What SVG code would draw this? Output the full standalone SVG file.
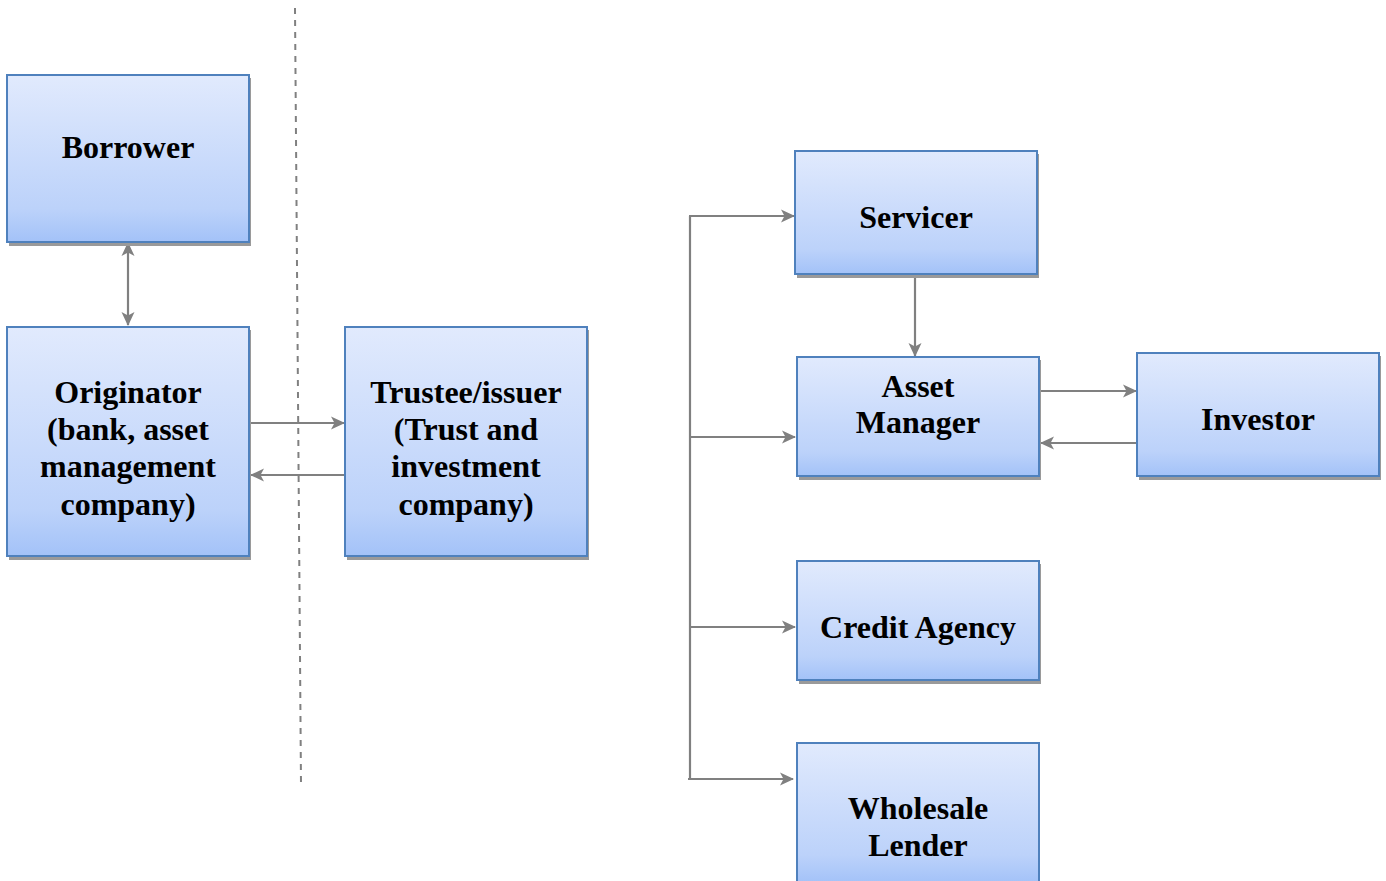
<svg xmlns="http://www.w3.org/2000/svg" width="1386" height="881" viewBox="0 0 1386 881">
<style>
.box{fill:url(#g);stroke:#4f81bd;stroke-width:2}
.sh{fill:#9a9a9a}
.t{font-family:"Liberation Serif","Times New Roman",serif;font-weight:bold;font-size:32px;fill:#000;text-anchor:middle}
.c{fill:none;stroke:#808080;stroke-width:2.2}
</style>
<defs>
<linearGradient id="g" x1="0" y1="0" x2="0" y2="1">
<stop offset="0" stop-color="#e1eafd"/>
<stop offset="0.8" stop-color="#bcd2fa"/>
<stop offset="1" stop-color="#a3c2f8"/>
</linearGradient>
<marker id="a" viewBox="0 0 14 14" refX="13" refY="7" markerWidth="14" markerHeight="14" markerUnits="userSpaceOnUse" orient="auto-start-reverse">
<path d="M0,0.5 L14,7 L0,13.5 L3.5,7 Z" fill="#808080"/>
</marker>
</defs>
<rect width="1386" height="881" fill="#fff"/>
<line x1="295" y1="8" x2="301" y2="785" stroke="#808080" stroke-width="2" stroke-dasharray="6,6"/>
<g id="connectors">
<line class="c" x1="128" y1="243" x2="128" y2="325" marker-start="url(#a)" marker-end="url(#a)"/>
<line class="c" x1="250" y1="423" x2="344" y2="423" marker-end="url(#a)"/>
<line class="c" x1="345" y1="475" x2="251" y2="475" marker-end="url(#a)"/>
<line class="c" x1="690" y1="216" x2="690" y2="779"/>
<line class="c" x1="689" y1="216" x2="794" y2="216" marker-end="url(#a)"/>
<line class="c" x1="690" y1="437" x2="795" y2="437" marker-end="url(#a)"/>
<line class="c" x1="690" y1="627" x2="795" y2="627" marker-end="url(#a)"/>
<line class="c" x1="688" y1="779" x2="793" y2="779" marker-end="url(#a)"/>
<line class="c" x1="915" y1="275" x2="915" y2="356" marker-end="url(#a)"/>
<line class="c" x1="1040" y1="391" x2="1136" y2="391" marker-end="url(#a)"/>
<line class="c" x1="1137" y1="443" x2="1041" y2="443" marker-end="url(#a)"/>
</g>
<g id="borrower">
<rect class="sh" x="9" y="78" width="242" height="168"/>
<rect class="box" x="7" y="75" width="242" height="167"/>
<text class="t" x="128" y="158">Borrower</text>
</g>
<g id="originator">
<rect class="sh" x="9" y="330" width="242" height="230"/>
<rect class="box" x="7" y="327" width="242" height="229"/>
<text class="t" x="128" y="403">Originator</text>
<text class="t" x="128" y="440">(bank, asset</text>
<text class="t" x="128" y="477">management</text>
<text class="t" x="128" y="515">company)</text>
</g>
<g id="trustee">
<rect class="sh" x="347" y="330" width="242" height="230"/>
<rect class="box" x="345" y="327" width="242" height="229"/>
<text class="t" x="466" y="403">Trustee/issuer</text>
<text class="t" x="466" y="440">(Trust and</text>
<text class="t" x="466" y="477">investment</text>
<text class="t" x="466" y="515">company)</text>
</g>
<g id="servicer">
<rect class="sh" x="797" y="154" width="242" height="124"/>
<rect class="box" x="795" y="151" width="242" height="123"/>
<text class="t" x="916" y="228">Servicer</text>
</g>
<g id="asset-manager">
<rect class="sh" x="799" y="360" width="242" height="120"/>
<rect class="box" x="797" y="357" width="242" height="119"/>
<text class="t" x="918" y="397">Asset</text>
<text class="t" x="918" y="433">Manager</text>
</g>
<g id="investor">
<rect class="sh" x="1139" y="356" width="242" height="124"/>
<rect class="box" x="1137" y="353" width="242" height="123"/>
<text class="t" x="1258" y="430">Investor</text>
</g>
<g id="credit-agency">
<rect class="sh" x="799" y="564" width="242" height="120"/>
<rect class="box" x="797" y="561" width="242" height="119"/>
<text class="t" x="918" y="638">Credit Agency</text>
</g>
<g id="wholesale-lender">
<rect class="box" x="797" y="743" width="242" height="140"/>
<text class="t" x="918" y="819">Wholesale</text>
<text class="t" x="918" y="856">Lender</text>
</g>
</svg>
